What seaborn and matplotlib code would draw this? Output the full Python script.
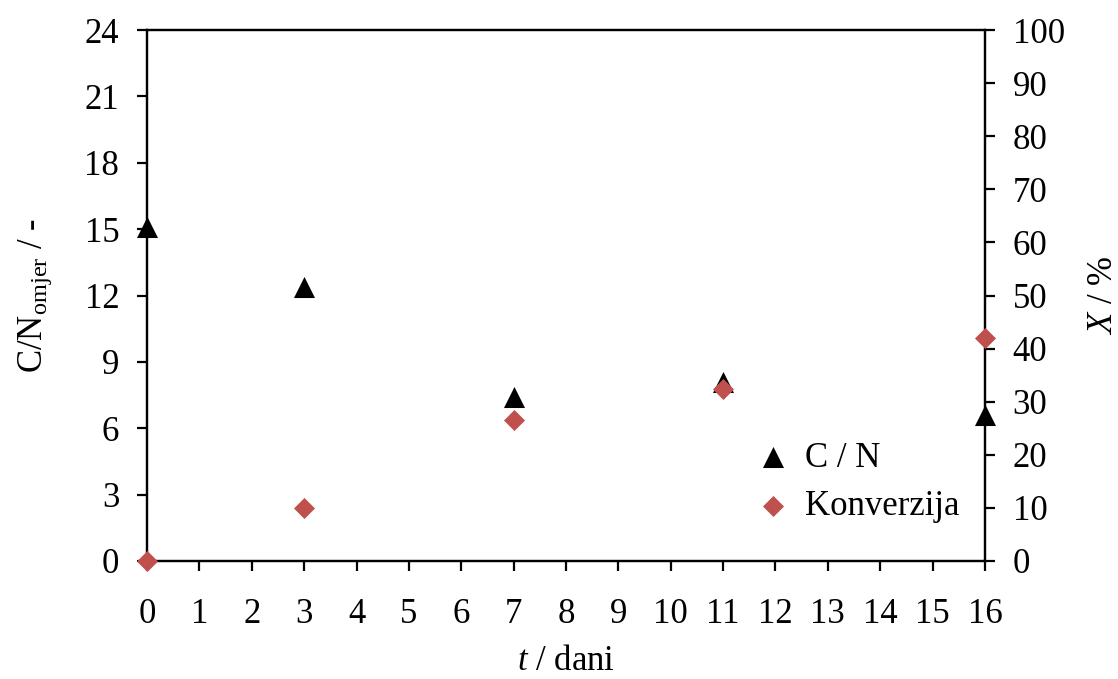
import matplotlib
matplotlib.use("Agg")
import matplotlib.pyplot as plt
import seaborn as sns
import pandas as pd

# data
dani = [0, 3, 7, 11, 16]
cn_omjer = [15.1, 12.4, 7.4, 8.1, 6.6]
konverzija = [0, 10, 26.5, 32.3, 42]

sns.set_style("ticks")
plt.rcParams["font.family"] = ["Liberation Serif", "DejaVu Serif"]
plt.rcParams["mathtext.fontset"] = "custom"
plt.rcParams["mathtext.rm"] = "Liberation Serif"
plt.rcParams["mathtext.it"] = "Liberation Serif:italic"
plt.rcParams["font.size"] = 25
for k in ("text.color", "axes.labelcolor", "xtick.color", "ytick.color", "axes.edgecolor"):
    plt.rcParams[k] = "black"

df = pd.DataFrame({"t": dani, "cn": cn_omjer, "x": konverzija})

fig, ax = plt.subplots(figsize=(11.18, 6.79), dpi=100)
fig.subplots_adjust(left=0.1315, right=0.881, top=0.9558, bottom=0.1738)
ax2 = ax.twinx()

sns.scatterplot(data=df, x="t", y="cn", marker="^", color="black", s=230,
                linewidth=0, ax=ax, clip_on=False, zorder=5, label="C / N", legend=False)
sns.scatterplot(data=df, x="t", y="x", marker="D", color="#C0504D", s=115,
                linewidth=0, ax=ax2, clip_on=False, zorder=5, label="Konverzija", legend=False)

ax.set_xlim(0, 16)
ax.set_ylim(0, 24)
ax2.set_ylim(0, 100)
ax.set_xticks(range(0, 17))
ax.set_yticks(range(0, 25, 3))
ax2.set_yticks(range(0, 101, 10))

for a in (ax, ax2):
    for s in a.spines.values():
        s.set_linewidth(1.6)
ax.tick_params(axis="x", direction="out", length=7, width=1.6, pad=20, labelsize=25)
ax.tick_params(axis="y", direction="out", length=7, width=1.6, pad=13, labelsize=25)
ax2.tick_params(axis="y", direction="out", length=7, width=1.6, pad=13, labelsize=25)

ax.set_xlabel("$t$ / dani", fontsize=25, labelpad=10)
ax.set_ylabel("C/N$_{\\mathregular{omjer}}$ / -", fontsize=25, labelpad=22)
ax2.set_ylabel("$X$ / %", fontsize=25, labelpad=16)

h1, l1 = ax.get_legend_handles_labels()
h2, l2 = ax2.get_legend_handles_labels()
leg = ax2.legend(h1 + h2, l1 + l2, loc="center left", bbox_to_anchor=(0.735, 0.148),
                 frameon=False, fontsize=25, handlelength=0.6, handletextpad=0.6,
                 labelspacing=0.45, borderpad=0, borderaxespad=0)

fig.savefig("out.png", dpi=100)
